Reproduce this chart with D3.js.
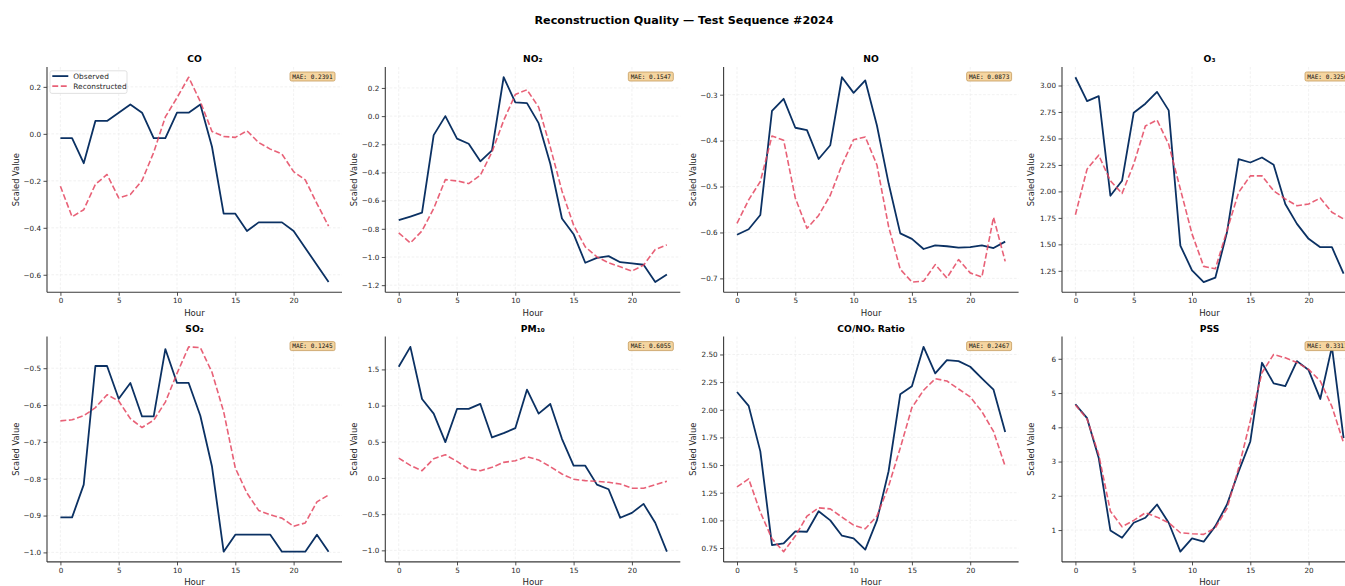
<!DOCTYPE html>
<html>
<head>
<meta charset="utf-8">
<script src="https://cdn.jsdelivr.net/npm/d3@7"></script>
<style>
  html, body { margin: 0; padding: 0; background: #ffffff; overflow: hidden; }
  svg { display: block; font-family: "DejaVu Sans", sans-serif; }
</style>
</head>
<body>
<svg id="chart" width="1345" height="586"></svg>
<script>
// Hours of the test sequence
const hours = [0, 1, 2, 3, 4, 5, 6, 7, 8, 9, 10, 11, 12, 13, 14, 15, 16, 17, 18, 19, 20, 21, 22, 23];

// Observed vs reconstructed (scaled) values per pollutant
const coObs = [-0.018, -0.018, -0.125, 0.055, 0.055, 0.09, 0.125, 0.09, -0.018, -0.018, 0.09, 0.09, 0.125, -0.055, -0.34, -0.34, -0.414, -0.377, -0.377, -0.377, -0.414, -0.486, -0.558, -0.631];
const coRec = [-0.223, -0.353, -0.323, -0.215, -0.173, -0.273, -0.258, -0.199, -0.079, 0.072, 0.154, 0.241, 0.137, 0.01, -0.011, -0.015, 0.013, -0.037, -0.065, -0.086, -0.161, -0.196, -0.297, -0.393];

const no2Obs = [-0.739, -0.713, -0.685, -0.135, 0.0, -0.16, -0.196, -0.321, -0.243, 0.276, 0.097, 0.092, -0.05, -0.338, -0.727, -0.838, -1.041, -1.006, -0.994, -1.037, -1.046, -1.055, -1.178, -1.124];
const no2Rec = [-0.829, -0.9, -0.815, -0.656, -0.451, -0.46, -0.479, -0.42, -0.255, -0.031, 0.153, 0.187, 0.064, -0.22, -0.531, -0.774, -0.928, -0.999, -1.041, -1.07, -1.1, -1.058, -0.947, -0.914];

const noObs = [-0.605, -0.593, -0.562, -0.335, -0.309, -0.372, -0.377, -0.44, -0.41, -0.262, -0.296, -0.269, -0.367, -0.493, -0.602, -0.614, -0.636, -0.628, -0.63, -0.633, -0.632, -0.628, -0.634, -0.62];
const noRec = [-0.58, -0.529, -0.489, -0.39, -0.399, -0.525, -0.591, -0.563, -0.519, -0.453, -0.398, -0.392, -0.453, -0.587, -0.68, -0.708, -0.706, -0.67, -0.699, -0.659, -0.688, -0.697, -0.567, -0.663];

const o3Obs = [3.078, 2.853, 2.9, 1.959, 2.1, 2.743, 2.828, 2.94, 2.765, 1.489, 1.254, 1.144, 1.185, 1.614, 2.304, 2.273, 2.32, 2.251, 1.881, 1.693, 1.552, 1.473, 1.473, 1.223];
const o3Rec = [1.78, 2.21, 2.342, 2.1, 1.981, 2.257, 2.618, 2.674, 2.445, 2.022, 1.599, 1.292, 1.27, 1.63, 1.991, 2.147, 2.147, 2.006, 1.928, 1.865, 1.881, 1.937, 1.803, 1.74];

const so2Obs = [-0.905, -0.905, -0.816, -0.494, -0.494, -0.583, -0.54, -0.631, -0.631, -0.448, -0.54, -0.54, -0.629, -0.767, -0.998, -0.952, -0.952, -0.952, -0.952, -0.998, -0.998, -0.998, -0.952, -0.998];
const so2Rec = [-0.643, -0.64, -0.629, -0.607, -0.572, -0.589, -0.637, -0.661, -0.641, -0.592, -0.514, -0.442, -0.444, -0.511, -0.618, -0.771, -0.839, -0.886, -0.898, -0.907, -0.929, -0.92, -0.863, -0.844];

const pm10Obs = [1.537, 1.812, 1.092, 0.89, 0.495, 0.954, 0.954, 1.023, 0.56, 0.619, 0.688, 1.22, 0.89, 1.023, 0.541, 0.17, 0.17, -0.092, -0.156, -0.55, -0.482, -0.358, -0.619, -1.018];
const pm10Rec = [0.275, 0.174, 0.101, 0.266, 0.321, 0.229, 0.124, 0.101, 0.147, 0.216, 0.239, 0.294, 0.248, 0.156, 0.055, -0.018, -0.037, -0.046, -0.06, -0.083, -0.142, -0.142, -0.092, -0.046];

const ratioObs = [2.161, 2.035, 1.624, 0.777, 0.792, 0.9, 0.897, 1.083, 1.0, 0.861, 0.837, 0.735, 1.0, 1.444, 2.14, 2.212, 2.569, 2.329, 2.449, 2.44, 2.389, 2.284, 2.182, 1.798];
const ratioRec = [1.302, 1.375, 1.074, 0.834, 0.717, 0.858, 1.038, 1.113, 1.104, 1.029, 0.957, 0.924, 1.038, 1.309, 1.654, 2.02, 2.176, 2.281, 2.26, 2.188, 2.116, 1.984, 1.804, 1.489];

const pssObs = [4.672, 4.266, 3.103, 0.99, 0.777, 1.213, 1.359, 1.746, 1.213, 0.37, 0.758, 0.661, 1.116, 1.746, 2.715, 3.587, 5.884, 5.283, 5.205, 5.932, 5.671, 4.828, 6.349, 3.684];
const pssRec = [4.653, 4.246, 3.2, 1.552, 1.097, 1.281, 1.504, 1.378, 1.213, 0.922, 0.893, 0.874, 1.068, 1.63, 2.812, 4.188, 5.593, 6.126, 6.029, 5.893, 5.69, 5.351, 4.605, 3.539];

// Panel titles, error scores and tick labels
const panelNames = ["CO", "NO\u2082", "NO", "O\u2083", "SO\u2082", "PM\u2081\u2080", "CO/NO\u2093 Ratio", "PSS"];
const maeValues = ["0.2391", "0.1547", "0.0873", "0.3256", "0.1245", "0.6055", "0.2467", "0.3311"];
const xTicks = [0, 5, 10, 15, 20];
const coTicks = [-0.6, -0.4, -0.2, 0.0, 0.2];
const no2Ticks = [-1.2, -1.0, -0.8, -0.6, -0.4, -0.2, 0.0, 0.2];
const noTicks = [-0.7, -0.6, -0.5, -0.4, -0.3];
const o3Ticks = [1.25, 1.50, 1.75, 2.00, 2.25, 2.50, 2.75, 3.00];
const so2Ticks = [-1.0, -0.9, -0.8, -0.7, -0.6, -0.5];
const pm10Ticks = [-1.0, -0.5, 0.0, 0.5, 1.0, 1.5];
const ratioTicks = [0.75, 1.00, 1.25, 1.50, 1.75, 2.00, 2.25, 2.50];
const pssTicks = [1, 2, 3, 4, 5, 6];
const tickFormats = [".1f", ".1f", ".1f", ".2f", ".1f", ".1f", ".2f", "d"];

const panels = [
  { obs: coObs, rec: coRec, ticks: coTicks },
  { obs: no2Obs, rec: no2Rec, ticks: no2Ticks },
  { obs: noObs, rec: noRec, ticks: noTicks },
  { obs: o3Obs, rec: o3Rec, ticks: o3Ticks },
  { obs: so2Obs, rec: so2Rec, ticks: so2Ticks },
  { obs: pm10Obs, rec: pm10Rec, ticks: pm10Ticks },
  { obs: ratioObs, rec: ratioRec, ticks: ratioTicks },
  { obs: pssObs, rec: pssRec, ticks: pssTicks }
].map((p, i) => ({ ...p, name: panelNames[i], mae: maeValues[i], fmt: tickFormats[i] }));

// Layout of the 2 x 4 grid of axes
const colX = [47, 385.3, 723.6, 1062];
const rowY = [67, 336.6];
const W = 295, H = 225.3;
const obsColor = "#0b3163";
const recColor = "#e4455f";
const textColor = "#262626";

const svg = d3.select("#chart");

svg.append("text")
  .attr("x", 684).attr("y", 24)
  .attr("text-anchor", "middle")
  .attr("font-size", 11.2).attr("font-weight", "bold")
  .attr("fill", "#000")
  .text("Reconstruction Quality \u2014 Test Sequence #2024");

const x = d3.scaleLinear().domain([-1.15, 24.15]).range([0, W]);

panels.forEach((p, i) => {
  const col = i % 4, row = Math.floor(i / 4);
  const g = svg.append("g").attr("transform", `translate(${colX[col]},${rowY[row]})`);

  const [lo, hi] = d3.extent(p.obs.concat(p.rec));
  const pad = (hi - lo) * 0.05;
  const y = d3.scaleLinear().domain([lo - pad, hi + pad]).range([H, 0]);

  // dashed grid
  const grid = g.append("g").attr("stroke", "#ededed").attr("stroke-width", 0.8)
    .attr("stroke-dasharray", "2.6,1.8");
  grid.selectAll("line.gx").data(xTicks).join("line")
    .attr("x1", d => x(d)).attr("x2", d => x(d)).attr("y1", 0).attr("y2", H);
  grid.selectAll("line.gy").data(p.ticks).join("line")
    .attr("x1", 0).attr("x2", W).attr("y1", d => y(d)).attr("y2", d => y(d));

  // axes (left and bottom spines only)
  const xAxis = g.append("g").attr("transform", `translate(0,${H})`)
    .call(d3.axisBottom(x).tickValues(xTicks).tickSize(3.5).tickPadding(2.5).tickFormat(d3.format("d")));
  const yAxis = g.append("g")
    .call(d3.axisLeft(y).tickValues(p.ticks).tickSize(3.5).tickPadding(2.5).tickFormat(d3.format(p.fmt)));
  [xAxis, yAxis].forEach(a => {
    a.select(".domain").attr("stroke", "#3a3a3a").attr("stroke-width", 1.1);
    a.selectAll(".tick line").attr("stroke", "#3a3a3a").attr("stroke-width", 0.9);
    a.selectAll(".tick text").attr("fill", textColor).attr("font-size", 7.2)
      .attr("font-family", "DejaVu Sans, sans-serif");
  });
  // keep the spines as straight lines without end caps
  xAxis.select(".domain").attr("d", `M0,0H${W}`);
  yAxis.select(".domain").attr("d", `M0,0V${H}`);

  // series
  const line = d3.line().x((d, k) => x(hours[k])).y(d => y(d));
  g.append("path").datum(p.obs)
    .attr("fill", "none").attr("stroke", obsColor).attr("stroke-width", 1.8)
    .attr("stroke-linejoin", "round").attr("d", line);
  g.append("path").datum(p.rec)
    .attr("fill", "none").attr("stroke", recColor).attr("stroke-opacity", 0.85)
    .attr("stroke-width", 1.6).attr("stroke-dasharray", "5.9,2.6")
    .attr("stroke-linejoin", "round").attr("d", line);

  // labels
  g.append("text").attr("x", W / 2).attr("y", -5)
    .attr("text-anchor", "middle").attr("font-size", 9.2).attr("font-weight", "bold")
    .attr("fill", "#000").text(p.name);
  g.append("text").attr("x", W / 2).attr("y", H + 23.5)
    .attr("text-anchor", "middle").attr("font-size", 8.6).attr("fill", textColor).text("Hour");
  g.append("text").attr("transform", `translate(${-28},${H / 2}) rotate(-90)`)
    .attr("text-anchor", "middle").attr("font-size", 8.3).attr("fill", textColor).text("Scaled Value");

  // MAE badge
  const badge = g.append("g").attr("transform", `translate(${W - 7},5)`);
  const bt = badge.append("text").attr("x", -2.3).attr("y", 6.5)
    .attr("text-anchor", "end").attr("font-size", 6.1).attr("fill", "#111")
    .attr("font-family", "DejaVu Sans Mono, monospace")
    .text(`MAE: ${p.mae}`);
  const tw = bt.node().getComputedTextLength();
  badge.insert("rect", "text").attr("x", -tw - 4.6).attr("y", 0)
    .attr("width", tw + 4.6).attr("height", 9).attr("rx", 1.6)
    .attr("fill", "#f5d5a0").attr("stroke", "#c49a5c").attr("stroke-width", 0.8);

  // legend on the first panel
  if (i === 0) {
    const lg = g.append("g").attr("transform", "translate(3,3.8)");
    lg.append("rect").attr("width", 77).attr("height", 22.6).attr("rx", 2)
      .attr("fill", "#fff").attr("fill-opacity", 0.8).attr("stroke", "#d9d9d9").attr("stroke-width", 0.8);
    const items = [
      { label: "Observed", color: obsColor, dash: null, w: 1.8, op: 1 },
      { label: "Reconstructed", color: recColor, dash: "5.9,2.6", w: 1.6, op: 0.85 }
    ];
    items.forEach((it, k) => {
      const yy = 5.3 + k * 10;
      lg.append("line").attr("x1", 2.3).attr("x2", 18.3).attr("y1", yy).attr("y2", yy)
        .attr("stroke", it.color).attr("stroke-width", it.w).attr("stroke-opacity", it.op)
        .attr("stroke-dasharray", it.dash);
      lg.append("text").attr("x", 23.3).attr("y", yy + 2.5).attr("font-size", 7.4)
        .attr("fill", textColor).text(it.label);
    });
  }
});
</script>
</body>
</html>
